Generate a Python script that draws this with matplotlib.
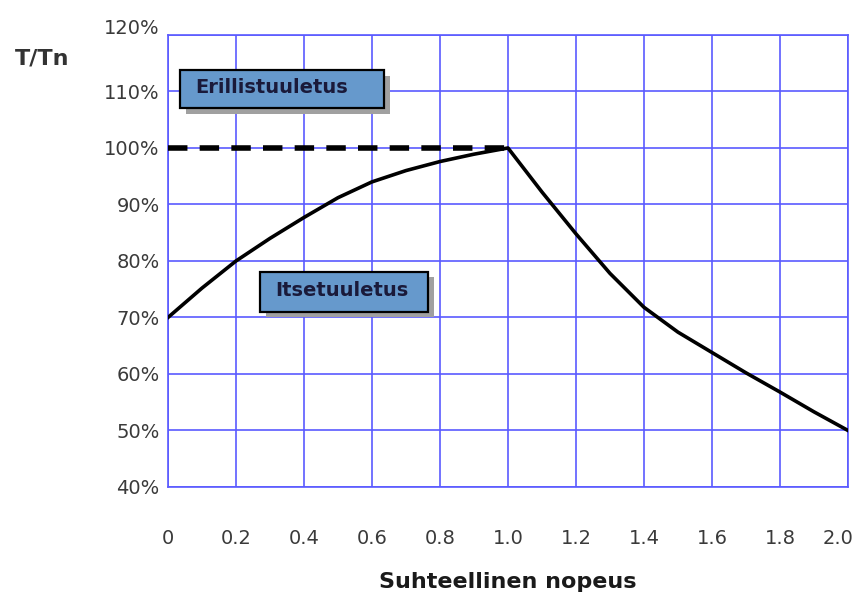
import matplotlib
matplotlib.use("Agg")
import matplotlib.pyplot as plt
from matplotlib.patches import Rectangle
from matplotlib.ticker import FixedLocator
import matplotlib.transforms as mtransforms

# Data
speed = [0.0, 0.1, 0.2, 0.3, 0.4, 0.5, 0.6, 0.7, 0.8, 0.9, 1.0,
         1.1, 1.2, 1.3, 1.4, 1.5, 1.6, 1.7, 1.8, 1.9, 2.0]
torque = [70.0, 75.2, 80.0, 84.0, 87.7, 91.2, 94.0, 96.0, 97.6, 98.9, 100.0,
          92.2, 84.8, 77.8, 71.8, 67.4, 63.8, 60.2, 56.8, 53.3, 50.0]
dashed_x = [0.0, 1.0]
dashed_y = [100.0, 100.0]
x_ticks = [0.0, 0.2, 0.4, 0.6, 0.8, 1.0, 1.2, 1.4, 1.6, 1.8, 2.0]
x_tick_labels = ["0", "0.2", "0.4", "0.6", "0.8", "1.0", "1.2", "1.4", "1.6", "1.8", "2.0"]
y_ticks = [40, 50, 60, 70, 80, 90, 100, 110, 120]
y_tick_labels = ["40%", "50%", "60%", "70%", "80%", "90%", "100%", "110%", "120%"]
box_labels = ["Erillistuuletus", "Itsetuuletus"]
box_x = [0.035, 0.27]
box_w = [0.60, 0.495]
box_y = [107.1, 71.0]
box_h = [6.7, 7.1]

plt.rcParams['font.family'] = ['DejaVu Sans']

fig = plt.figure(figsize=(8.61, 6.03), dpi=100)
ax = fig.add_axes([0.1951, 0.1924, 0.7898, 0.7496])
ax.set_xlim(0, 2.0)
ax.set_ylim(40, 120)

grid_color = "#5a5aff"
ax.xaxis.set_major_locator(FixedLocator(x_ticks))
ax.yaxis.set_major_locator(FixedLocator(y_ticks))
ax.set_xticklabels(x_tick_labels)
ax.set_yticklabels(y_tick_labels)
ax.grid(True, color=grid_color, linewidth=1.2)
ax.set_axisbelow(True)
for s in ax.spines.values():
    s.set_color(grid_color)
    s.set_linewidth(1.2)
ax.tick_params(axis='both', length=0, labelsize=14, labelcolor="#3a3a3a")
ax.tick_params(axis='x', pad=30)
ax.tick_params(axis='y', pad=6)

# shift last x label so it stays inside the figure, lift top y label a bit
fig.canvas.draw()
xl = ax.get_xticklabels()
xl[-1].set_transform(xl[-1].get_transform() +
                     mtransforms.ScaledTranslation(-10 / 100, 0, fig.dpi_scale_trans))
yl = ax.get_yticklabels()
yl[-1].set_transform(yl[-1].get_transform() +
                     mtransforms.ScaledTranslation(0, 8 / 100, fig.dpi_scale_trans))

ax.plot(speed, torque, color="black", linewidth=2.6, solid_joinstyle='round', zorder=4)
ax.plot(dashed_x, dashed_y, color="black", linewidth=4, dashes=(3.5, 2.2), zorder=5)

# Annotation boxes with shadow
for lbl, bx, by, bw, bh in zip(box_labels, box_x, box_y, box_w, box_h):
    shadow = Rectangle((bx + 0.018, by - 1.0), bw, bh, facecolor="#a0a0a0",
                       edgecolor="none", zorder=6)
    ax.add_patch(shadow)
    box = Rectangle((bx, by), bw, bh, facecolor="#6699cc", edgecolor="black",
                    linewidth=1.6, zorder=7)
    ax.add_patch(box)
    ax.text(bx + 0.045, by + bh / 2 + 0.3, lbl, fontsize=14, fontweight='bold',
            color="#1a1a3a", ha='left', va='center', zorder=8)

fig.text(15 / 861, 1 - 58 / 603, "T/Tn", fontsize=16, fontweight='bold',
         color="#333333", ha='left', va='center')
fig.text(508 / 861, 1 - 582 / 603, "Suhteellinen nopeus", fontsize=16,
         fontweight='bold', color="#1a1a1a", ha='center', va='center')

fig.savefig("out.png", dpi=100, facecolor="white")
